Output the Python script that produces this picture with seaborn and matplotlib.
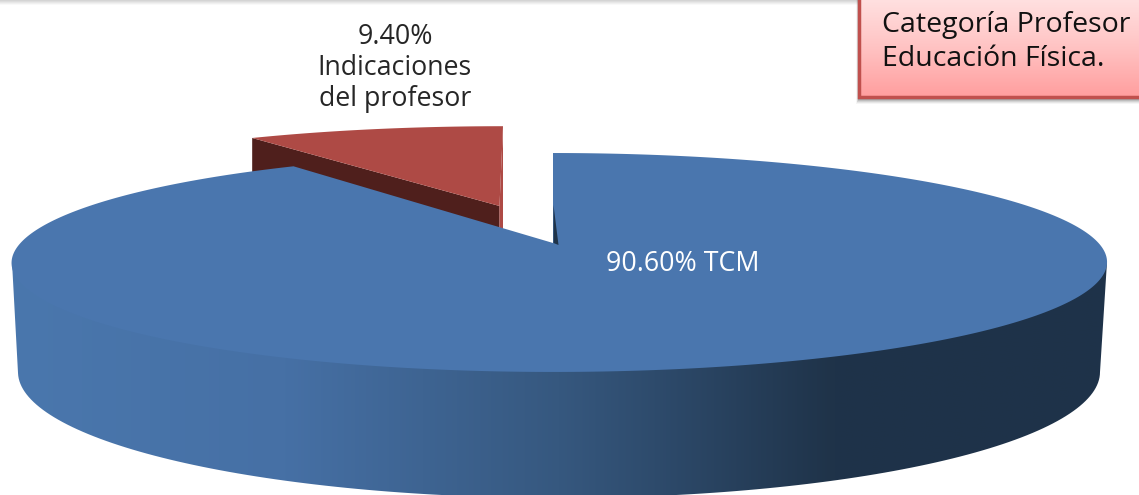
import numpy as np
import matplotlib
matplotlib.use("Agg")
import matplotlib.pyplot as plt
from matplotlib.patches import Polygon, Rectangle
import seaborn as sns

categories = ["TCM", "Indicaciones\ndel profesor"]
shares = [90.60, 9.40]
note_lines = ["Categoría Profesor", "Educación Física."]

sns.set_theme(style="white")
plt.rcParams["font.family"] = ["Open Sans", "DejaVu Sans"]

W, H = 1139, 495
fig = plt.figure(figsize=(W / 100, H / 100), dpi=100)
ax = fig.add_axes([0, 0, 1, 1])
ax.set_axis_off()

TOP_BLUE = "#4a76ae"
WALL_STOPS = ["#4a77ad", "#4670a5", "#36587f", "#1f3349", "#1e3249"]
RED = "#ae4a45"
DARK_RED = "#4f1f1c"


def rim(t, apex, a, b, k, drift=0.0, shift=0.0):
    # pie rim with a bit of perspective, t measured clockwise from 12 o'clock
    x, y = np.sin(t), np.cos(t)
    d = 1 + k * y
    return np.c_[apex[0] + shift + b * x / d + drift * (1 - y ** 2), apex[1] - a * y / d]


def gradient(colors, extent, horizontal=True, zorder=1, clip=None):
    cols = np.array(sns.blend_palette(colors, 256))
    img = cols[None, :, :] if horizontal else cols[:, None, :]
    im = ax.imshow(img, extent=extent, aspect="auto", zorder=zorder, interpolation="bilinear")
    if clip is not None:
        im.set_clip_path(clip)
    return im


blue_frac, red_frac = np.array(shares) / sum(shares)

# thin grey band on top of the slide
gradient(["#cfcfcf", "#ffffff"], (0, 860, 5, 0), horizontal=False, zorder=0)

# red slice
red_apex = (499.5, 206)
red_t = np.linspace(-2 * np.pi * red_frac, 0, 60)
red_rim = rim(red_t, red_apex, 94, 517, 0.178, shift=3.5)
ax.add_patch(Polygon([red_rim[0], red_apex, (red_apex[0], 235), (red_rim[0][0], 175)],
                     fc=DARK_RED, ec="none", zorder=2))
ax.add_patch(Polygon([red_apex, red_rim[-1], (red_rim[-1][0], 232), (red_apex[0], 232)],
                     fc=RED, ec="none", zorder=2))
ax.add_patch(Polygon(np.vstack([[red_apex], red_rim]), fc=RED, ec="none", zorder=3))

# blue slice, side wall first
blue_apex = (553, 243)
t_low = np.linspace(0, 2 * np.pi, 300)
low_x = 559 + 541 * np.cos(t_low[:150])
low_y = 372 + 126 * np.sin(t_low[:150])
wall = np.vstack([[(1107, 262)], np.c_[low_x, low_y], [(12, 262)]])
wall_patch = Polygon(wall, fc="none", ec="none", zorder=4)
ax.add_patch(wall_patch)
gradient(WALL_STOPS, (12, 1107, 500, 240), zorder=4, clip=wall_patch)

blue_t = np.linspace(0, 2 * np.pi * blue_frac, 400)
blue_rim = rim(blue_t, blue_apex, 106, 539, 0.178, drift=6.5)
ax.add_patch(Polygon(np.vstack([[blue_apex], blue_rim]), fc=TOP_BLUE, ec="none", zorder=6))
ax.add_patch(Polygon([(553.5, 205), (558.5, 245), (553.5, 243)], fc="#1f3349", ec="none", zorder=7))

# slice labels
ax.text(683, 264, f"{shares[0]:.2f}% {categories[0]}", color="white", fontsize=19.3,
        ha="center", va="center", zorder=7)
ax.text(395, 68, f"{shares[1]:.2f}%\n{categories[1]}", color="#262626", fontsize=19.3,
        ha="center", va="center", linespacing=1.15, zorder=7)

# note box in the corner
for i, alpha in zip(range(6, 0, -1), [0.04, 0.06, 0.08, 0.1, 0.12, 0.14]):
    ax.add_patch(Rectangle((859 - i / 2, 0), 290, 98 + i, fc="#000000", alpha=alpha, ec="none", zorder=8))
box = Rectangle((859, -5), 290, 102, fc="none", ec="#c0504d", lw=2.5, zorder=10)
ax.add_patch(box)
gradient(["#ffe3e3", "#ffc4c4", "#ff9e9e"], (859, 1149, 97, -5), horizontal=False, zorder=9)
ax.text(882, 25, note_lines[0], color="#111111", fontsize=20.5, va="center", zorder=11)
ax.text(882, 59, note_lines[1], color="#111111", fontsize=20.5, va="center", zorder=11)

ax.set_xlim(0, W)
ax.set_ylim(H, 0)
fig.savefig("out.png", dpi=100, facecolor="white")
